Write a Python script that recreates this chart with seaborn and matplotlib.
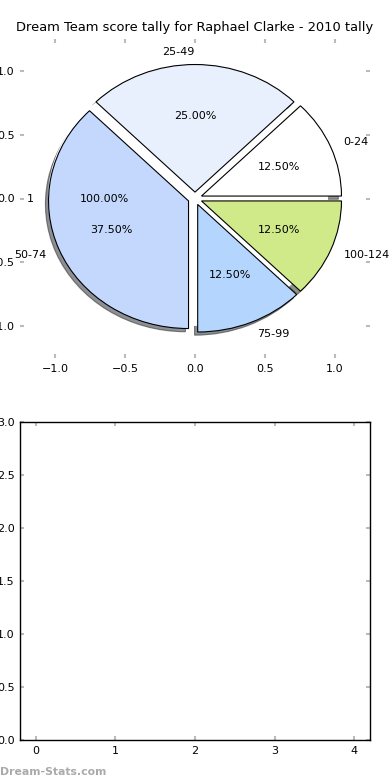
import matplotlib
matplotlib.use("Agg")
import matplotlib.pyplot as plt
import matplotlib.patches as mpatches
import seaborn as sns

title = "Dream Team score tally for Raphael Clarke - 2010 tally"
total_values = [1]
total_labels = ["1"]
ranges = ["0-24", "25-49", "50-74", "75-99", "100-124"]
counts = [1, 2, 3, 1, 1]
colors = ["#ffffff", "#e8f0fe", "#c4d8fe", "#b4d6fe", "#d0ea8a"]
explode = [0.05, 0.05, 0.05, 0.05, 0.05]
pie_ticks = [-1.0, -0.5, 0.0, 0.5, 1.0]
bottom_xticks = [0, 1, 2, 3, 4]
bottom_yticks = [0.0, 0.5, 1.0, 1.5, 2.0, 2.5, 3.0]

sns.set_theme(style="white")
plt.rcParams["font.family"] = ["DejaVu Sans"]
plt.rcParams["text.color"] = "black"

fig = plt.figure(figsize=(3.9, 7.8), dpi=100)
ax1 = fig.add_axes([20 / 390, 1 - 358 / 780, 350 / 390, 319 / 780])
ax2 = fig.add_axes([20 / 390, 40 / 780, 350 / 390, 318 / 780])

# first pie: the overall total (white disc hiding inner shadows)
w0, t0, a0 = ax1.pie(total_values, labels=total_labels, explode=[0.05],
                     colors=["white"], autopct="%.2f%%", startangle=0,
                     wedgeprops=dict(linewidth=0),
                     textprops=dict(fontsize=8, color="black"))
for w in w0:
    w.set_zorder(1)

wedges, texts, autotexts = ax1.pie(counts, labels=ranges, explode=explode,
                                   colors=colors, autopct="%.2f%%",
                                   shadow=dict(ox=-0.016, oy=-0.018, shade=0.85),
                                   startangle=0,
                                   wedgeprops=dict(edgecolor="black", linewidth=0.8),
                                   textprops=dict(fontsize=8, color="black"))
for p in ax1.patches:
    if isinstance(p, mpatches.Shadow):
        p.set_zorder(0.5)
for w in wedges:
    w.set_zorder(1.5)

ax1.set_aspect("auto")
ax1.set_xlim(-1.25, 1.25)
ax1.set_ylim(-1.25, 1.25)
ax1.set_xticks(pie_ticks)
ax1.set_yticks(pie_ticks)
ax1.set_frame_on(False)
ax1.set_title(title, fontsize=9.4, color="black")

ax2.set_xlim(-0.2, 4.2)
ax2.set_ylim(0, 3)
ax2.set_xticks(bottom_xticks)
ax2.set_yticks(bottom_yticks)
for s in ax2.spines.values():
    s.set_visible(True)
    s.set_color("black")
    s.set_linewidth(1)

for ax in (ax1, ax2):
    ax.tick_params(direction="in", length=3, width=1.5, color="#bbbbbb",
                   labelsize=8, labelcolor="black", pad=4,
                   top=True, right=True, bottom=True, left=True)
    ax.grid(False)
    ax.set_facecolor("white")

fig.text(0.0, 3 / 780, "Dream-Stats.com", fontsize=7.8, fontweight="bold",
         color="#aaaaaa", ha="left", va="bottom")

fig.savefig("out.png", dpi=100, facecolor="white")
